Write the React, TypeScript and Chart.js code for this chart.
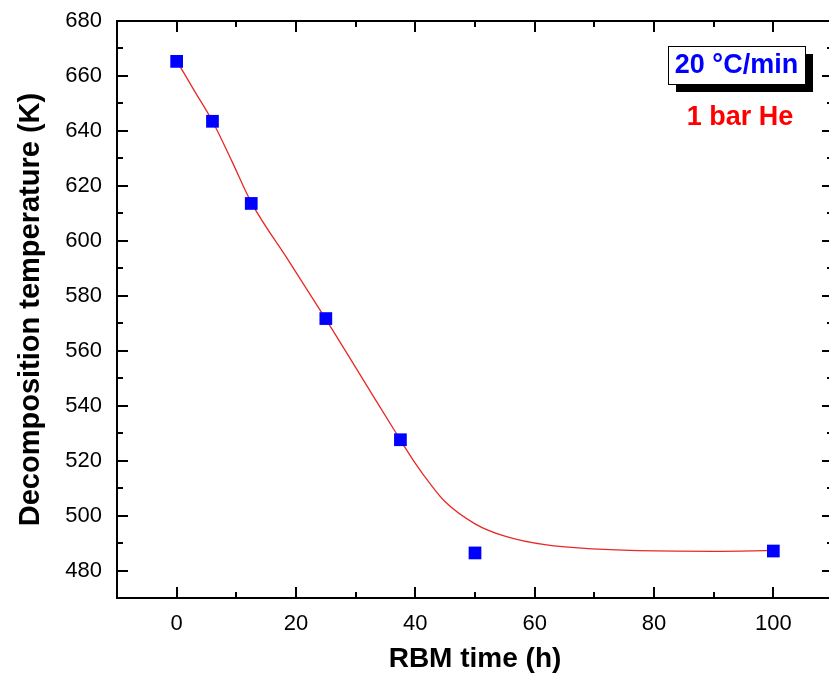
import React, { useEffect, useRef } from "react";
import { Chart, registerables } from "chart.js";

Chart.register(...registerables);

const timeH = [0, 6, 12.5, 25, 37.5, 50, 100];
const decompT = [665.3, 643.5, 613.6, 571.7, 527.6, 486.4, 487.1];

const fitX = [0, 3, 6, 9.25, 12.5, 18.75, 25, 31.25, 37.5, 40, 42.5, 45, 50, 55, 62, 76, 90, 100];
const fitY = [665.5, 654.5, 643.5, 629, 614, 592.8, 571.5, 549.5, 527.5, 519, 511.5, 505, 497, 492.5, 489.3, 487.3, 487, 487.3];

const xMajor = [0, 20, 40, 60, 80, 100];
const xMinor = [10, 30, 50, 70, 90];
const yMajor = [480, 500, 520, 540, 560, 580, 600, 620, 640, 660, 680];
const yMinor = [490, 510, 530, 550, 570, 590, 610, 630, 650, 670];

const FONT = "'Liberation Sans', Arial, sans-serif";

const framePlugin = {
  id: "framePlugin",
  afterDraw(chart: any) {
    const ctx = chart.ctx;
    const { left, right, top, bottom } = chart.chartArea;
    const xs = chart.scales.x;
    const ys = chart.scales.y;
    ctx.save();
    ctx.strokeStyle = "#000";
    ctx.lineWidth = 2;
    ctx.strokeRect(left, top, right - left, bottom - top);
    const maj = 11;
    const min = 6;
    ctx.beginPath();
    const xt = (v: number, len: number) => {
      const p = Math.round(xs.getPixelForValue(v));
      ctx.moveTo(p, bottom);
      ctx.lineTo(p, bottom - len);
      ctx.moveTo(p, top);
      ctx.lineTo(p, top + len);
    };
    const yt = (v: number, len: number) => {
      const p = Math.round(ys.getPixelForValue(v));
      ctx.moveTo(left, p);
      ctx.lineTo(left + len, p);
      ctx.moveTo(right, p);
      ctx.lineTo(right - len, p);
    };
    xMajor.forEach((v) => xt(v, maj));
    xMinor.forEach((v) => xt(v, min));
    yMajor.forEach((v) => yt(v, maj));
    yMinor.forEach((v) => yt(v, min));
    ctx.stroke();

    // annotation box with shadow
    const bx = right - 165;
    const by = top + 25;
    const bw = 137;
    const bh = 38;
    ctx.fillStyle = "#000";
    ctx.fillRect(bx + 8, by + 8, bw, bh);
    ctx.fillStyle = "#fff";
    ctx.fillRect(bx, by, bw, bh);
    ctx.lineWidth = 1;
    ctx.strokeStyle = "#000";
    ctx.strokeRect(bx + 0.5, by + 0.5, bw, bh);
    ctx.fillStyle = "#0000ff";
    ctx.font = `bold 27px ${FONT}`;
    ctx.textAlign = "center";
    ctx.textBaseline = "middle";
    ctx.fillText("20 °C/min", bx + bw / 2, by + bh / 2 + 1);
    ctx.fillStyle = "#ff0000";
    ctx.font = `bold 27px ${FONT}`;
    ctx.fillText("1 bar He", bx + 72, by + 72);
    ctx.restore();
  },
};

export default function App() {
  const ref = useRef<HTMLCanvasElement>(null);
  useEffect(() => {
    if (!ref.current) return;
    const chart = new Chart(ref.current, {
      type: "scatter",
      data: {
        datasets: [
          {
            label: "fit",
            data: fitX.map((x, i) => ({ x, y: fitY[i] })),
            showLine: true,
            borderColor: "rgb(232,40,40)",
            borderWidth: 1.3,
            pointRadius: 0,
            cubicInterpolationMode: "monotone",
            order: 2,
          } as any,
          {
            label: "data",
            data: timeH.map((x, i) => ({ x, y: decompT[i] })),
            pointStyle: "rect",
            pointRadius: 9,
            pointBackgroundColor: "#0000ff",
            pointBorderColor: "#0000ff",
            pointBorderWidth: 0,
            showLine: false,
            order: 1,
          } as any,
        ],
      },
      options: {
        animation: false,
        responsive: false,
        maintainAspectRatio: false,
        layout: { padding: { top: 21, right: 12, left: 0, bottom: 0 } },
        plugins: {
          legend: { display: false },
          tooltip: { enabled: false },
        },
        scales: {
          x: {
            type: "linear",
            min: -10,
            max: 110,
            grid: { display: false },
            border: { display: false },
            afterBuildTicks: (s: any) => {
              s.ticks = xMajor.map((v) => ({ value: v }));
            },
            afterFit: (s: any) => {
              s.height = 78;
            },
            ticks: {
              padding: 5,
              color: "#000",
              font: { family: FONT, size: 22 },
              maxRotation: 0,
            },
            title: {
              display: true,
              text: "RBM time (h)",
              color: "#000",
              font: { family: FONT, size: 28, weight: "bold" },
              padding: { top: 0, bottom: 0 },
            },
          },
          y: {
            type: "linear",
            min: 470,
            max: 680,
            grid: { display: false },
            border: { display: false },
            afterBuildTicks: (s: any) => {
              s.ticks = yMajor.map((v) => ({ value: v }));
            },
            afterFit: (s: any) => {
              s.width = 117;
            },
            ticks: {
              padding: 7,
              color: "#000",
              font: { family: FONT, size: 22 },
            },
            title: {
              display: true,
              text: "Decomposition temperature (K)",
              color: "#000",
              font: { family: FONT, size: 29, weight: "bold" },
              padding: { top: 14, bottom: 0 },
            },
          },
        },
      } as any,
      plugins: [framePlugin],
    });
    return () => chart.destroy();
  }, []);
  return (
    <div
      style={{
        position: "absolute",
        left: 0,
        top: 0,
        width: 829,
        height: 676,
        overflow: "hidden",
        background: "#fff",
      }}
    >
      <canvas ref={ref} width={845} height={676} style={{ display: "block" }} />
    </div>
  );
}
